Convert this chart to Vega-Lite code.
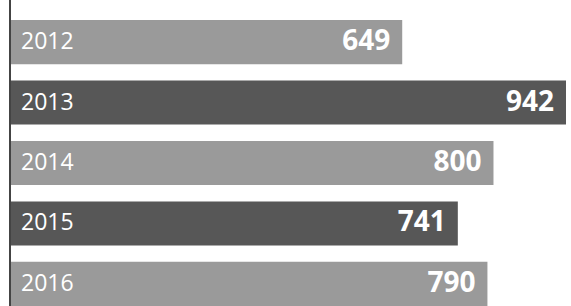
{
  "$schema": "https://vega.github.io/schema/vega-lite/v6.json",
  "width": 556,
  "height": 306,
  "autosize": "none",
  "padding": {"left": 10, "top": 0, "right": 5, "bottom": 0},
  "background": "white",
  "config": {"view": {"stroke": null}},
  "data": {"values": [
    {"year": "2012", "value": 649},
    {"year": "2013", "value": 942},
    {"year": "2014", "value": 800},
    {"year": "2015", "value": 741},
    {"year": "2016", "value": 790}
  ]},
  "layer": [
    {
      "mark": {"type": "bar"},
      "encoding": {
        "y": {"field": "year", "type": "nominal", "sort": null, "axis": null,
          "scale": {"range": [20, 306], "paddingInner": 0.27, "paddingOuter": 0}},
        "x": {"field": "value", "type": "quantitative", "axis": null,
          "scale": {"domain": [0, 920], "clamp": true, "nice": false, "zero": true}},
        "color": {"field": "year", "type": "nominal", "legend": null,
          "scale": {"domain": ["2012", "2013", "2014", "2015", "2016"],
            "range": ["#9a9a9a", "#575757", "#9a9a9a", "#575757", "#9a9a9a"]}}
      }
    },
    {
      "mark": {"type": "text", "align": "left", "baseline": "middle", "dx": 11,
        "font": "Open Sans", "fontSize": 23, "color": "white"},
      "encoding": {
        "y": {"field": "year", "type": "nominal", "sort": null},
        "x": {"datum": 0, "type": "quantitative"},
        "text": {"field": "year"}
      }
    },
    {
      "mark": {"type": "text", "align": "right", "baseline": "middle", "dx": -12,
        "font": "Open Sans", "fontWeight": "bold", "fontSize": 28, "color": "white"},
      "encoding": {
        "y": {"field": "year", "type": "nominal", "sort": null},
        "x": {"field": "value", "type": "quantitative"},
        "text": {"field": "value", "type": "quantitative"}
      }
    },
    {
      "mark": {"type": "rule", "color": "#444444", "strokeWidth": 2},
      "encoding": {"x": {"datum": 0, "type": "quantitative"}}
    }
  ]
}
